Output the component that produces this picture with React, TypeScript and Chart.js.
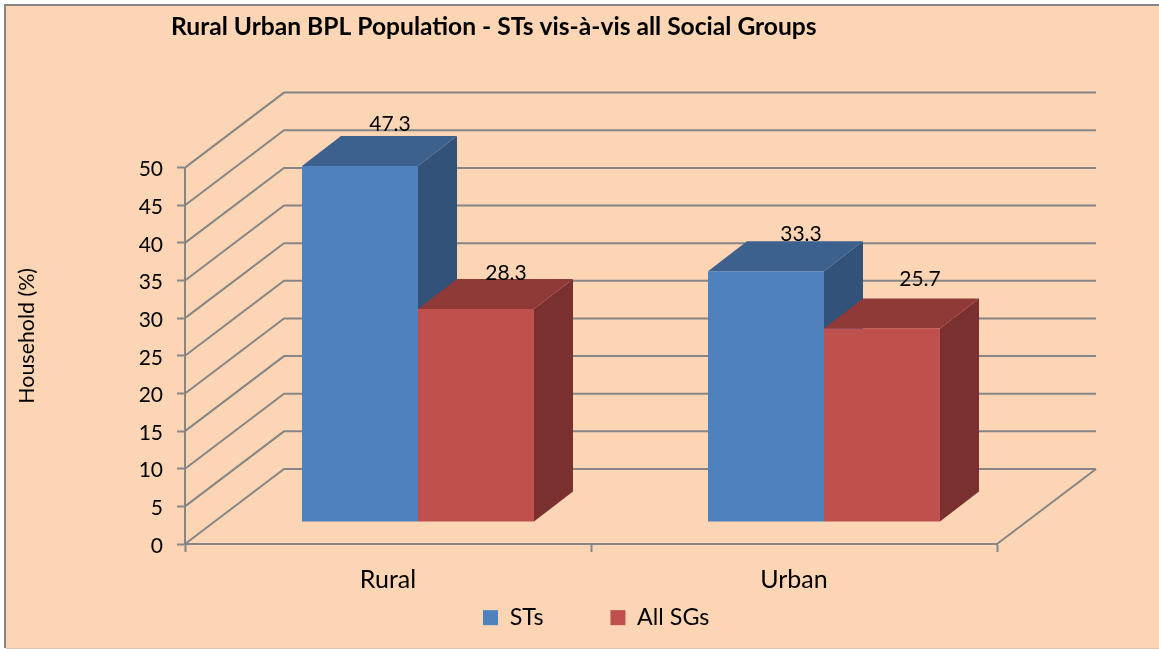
import React, { useEffect, useRef } from "react";
import { Chart, registerables } from "chart.js";

Chart.register(...registerables);

const categories = ["Rural", "Urban"];
const seriesNames = ["STs", "All SGs"];
const stsValues = [47.3, 33.3];
const allSgsValues = [28.3, 25.7];

const FONT = "Lato, Carlito, 'Open Sans', sans-serif";
const PAGE_BG = "#FCD5B5";
const AXIS = "#868686";
const FRONT = ["#4F81BD", "#C0504D"];
const TOP = ["#3C618F", "#903A38"];
const SIDE = ["#32527A", "#7B3030"];

// 3-D projection, in pixels
const WALL = { dx: 99, dy: -75 };
const BAR_SHIFT = { dx: 30, dy: -22 };
const BAR_DEPTH = { dx: 39, dy: -30 };
// Nudges of the value labels relative to the back of each bar's top: [dataset][category]
const LABEL_NUDGE = [
  [[30, -12], [35, -7]],
  [[30, -6], [38, -19]],
];
const Y_TITLE_SHIFT = -20;

const poly = (ctx: CanvasRenderingContext2D, pts: number[][], fill: string) => {
  ctx.beginPath();
  pts.forEach(([x, y], i) => (i ? ctx.lineTo(x, y) : ctx.moveTo(x, y)));
  ctx.closePath();
  ctx.fillStyle = fill;
  ctx.fill();
};

const scene = {
  id: "scene3d",
  beforeLayout(chart: any) {
    const l = chart.legend;
    if (l && !l.__patched) {
      l.__patched = true;
      const fit = l.fit;
      // the legend floats below the axis: it must not take room from the plot
      l.fit = function () {
        fit.call(this);
        this.height = 0;
      };
    }
  },
  afterLayout(chart: any) {
    const t = chart.titleBlock;
    if (t) {
      t.left = 171;
      t.right = 1000;
    }
    const l = chart.legend;
    if (l) {
      const pad = l.options.labels.padding;
      l.left = 483 - pad;
      l.right = 1159;
      l.top = 606 - pad;
      l.bottom = 649;
      l.width = l.right - l.left;
      l.height = l.bottom - l.top;
    }
    const y = chart.scales.y;
    if (y && !y.__patched) {
      y.__patched = true;
      const drawTitle = y.drawTitle;
      // the axis title sits above the middle of the axis
      y.drawTitle = function (...args: any[]) {
        const { top, bottom } = this;
        this.top = top + Y_TITLE_SHIFT;
        this.bottom = bottom + Y_TITLE_SHIFT;
        drawTitle.apply(this, args);
        this.top = top;
        this.bottom = bottom;
      };
    }
  },
  beforeDraw(chart: any) {
    const { ctx, width, height } = chart;
    ctx.save();
    ctx.fillStyle = "#FFFFFF";
    ctx.fillRect(0, 0, width, height);
    ctx.fillStyle = PAGE_BG;
    ctx.fillRect(5, 5, width - 5, height - 6);
    ctx.fillStyle = AXIS;
    ctx.fillRect(4, 4, width - 4, 2);
    ctx.fillRect(4, 4, 2, height - 5);
    ctx.fillStyle = "#D9C4B4";
    ctx.fillRect(6, height - 1, width - 6, 1);
    ctx.restore();
  },
  beforeDatasetsDraw(chart: any) {
    const { ctx, chartArea, scales } = chart;
    ctx.save();
    ctx.strokeStyle = AXIS;
    ctx.lineWidth = 2;
    // side wall and back wall lines, one per tick
    scales.y.ticks.forEach((tick: any) => {
      const y = scales.y.getPixelForValue(tick.value);
      ctx.beginPath();
      ctx.moveTo(chartArea.left, y);
      ctx.lineTo(chartArea.left + WALL.dx, y + WALL.dy);
      ctx.lineTo(chartArea.right + WALL.dx, y + WALL.dy);
      ctx.stroke();
    });
    // right edge of the floor
    const y0 = scales.y.getPixelForValue(0);
    ctx.beginPath();
    ctx.moveTo(chartArea.right, y0);
    ctx.lineTo(chartArea.right + WALL.dx, y0 + WALL.dy);
    ctx.stroke();
    // depth faces of each bar
    chart.data.datasets.forEach((_: any, d: number) => {
      chart.getDatasetMeta(d).data.forEach((bar: any) => {
        const p = bar.getProps(["x", "y", "base", "width"], true);
        const l = p.x - p.width / 2 + BAR_SHIFT.dx;
        const r = p.x + p.width / 2 + BAR_SHIFT.dx;
        const t = p.y + BAR_SHIFT.dy;
        const b = p.base + BAR_SHIFT.dy;
        const { dx, dy } = BAR_DEPTH;
        poly(ctx, [[r, t], [r + dx, t + dy], [r + dx, b + dy], [r, b]], SIDE[d]);
        poly(ctx, [[l, t], [l + dx, t + dy], [r + dx, t + dy], [r, t]], TOP[d]);
      });
    });
    ctx.restore();
    // the native bars are the front faces, moved to the middle of the floor
    ctx.save();
    ctx.translate(BAR_SHIFT.dx, BAR_SHIFT.dy);
  },
  afterDatasetsDraw(chart: any) {
    const { ctx } = chart;
    ctx.restore();
    ctx.save();
    ctx.fillStyle = "#000000";
    ctx.font = `21px ${FONT}`;
    ctx.textAlign = "center";
    ctx.textBaseline = "middle";
    chart.data.datasets.forEach((ds: any, d: number) => {
      chart.getDatasetMeta(d).data.forEach((bar: any, i: number) => {
        const p = bar.getProps(["x", "y"], true);
        const [nx, ny] = LABEL_NUDGE[d][i];
        ctx.fillText(
          String(ds.data[i]),
          p.x + BAR_SHIFT.dx + nx,
          p.y + BAR_SHIFT.dy + BAR_DEPTH.dy + ny
        );
      });
    });
    ctx.restore();
  },
};

export default function App() {
  const ref = useRef<HTMLCanvasElement>(null);
  useEffect(() => {
    const chart = new Chart(ref.current as HTMLCanvasElement, {
      type: "bar",
      data: {
        labels: categories,
        datasets: [
          {
            label: seriesNames[0],
            data: stsValues,
            backgroundColor: FRONT[0],
            borderWidth: 0,
            clip: false as any,
            barPercentage: 1,
            categoryPercentage: 0.5714,
          },
          {
            label: seriesNames[1],
            data: allSgsValues,
            backgroundColor: FRONT[1],
            borderWidth: 0,
            clip: false as any,
            barPercentage: 1,
            categoryPercentage: 0.5714,
          },
        ],
      },
      options: {
        animation: false,
        responsive: false,
        layout: { padding: { left: 0, right: 162, top: 0, bottom: 0 } },
        scales: {
          x: {
            afterFit: (s: any) => {
              s.height = 105;
            },
            border: { color: AXIS, width: 2 },
            grid: { offset: true, drawOnChartArea: false, color: AXIS, tickColor: AXIS, tickLength: 8, tickWidth: 2 },
            ticks: { color: "#000000", font: { family: FONT, size: 25 }, padding: 13, maxRotation: 0 },
          },
          y: {
            min: 0,
            max: 50,
            afterFit: (s: any) => {
              s.width = 185;
            },
            border: { color: AXIS, width: 2 },
            grid: { drawOnChartArea: false, color: AXIS, tickColor: AXIS, tickLength: 8, tickWidth: 2 },
            ticks: { stepSize: 5, color: "#000000", font: { family: FONT, size: 21 }, padding: 14, labelOffset: 2 },
            title: {
              display: true,
              text: "Household (%)",
              color: "#000000",
              font: { family: FONT, size: 21.4 },
              padding: { top: 14, bottom: 0 },
            },
          },
        },
        plugins: {
          tooltip: { enabled: false },
          title: {
            display: true,
            text: "Rural Urban BPL Population - STs vis-à-vis all Social Groups",
            align: "start",
            color: "#000000",
            font: { family: FONT, size: 24.6, weight: "bold" },
            padding: { top: 12.3, bottom: 125.8 },
          },
          legend: {
            position: "bottom",
            align: "start",
            labels: {
              boxWidth: 15,
              boxHeight: 15,
              padding: 67,
              color: "#000000",
              font: { family: FONT, size: 23.3 },
            },
          },
        },
      },
      plugins: [scene],
    } as any);
    return () => chart.destroy();
  }, []);
  return (
    <canvas
      ref={ref}
      width={1159}
      height={649}
      style={{ position: "fixed", left: 0, top: 0, width: 1159, height: 649, display: "block" }}
    />
  );
}
